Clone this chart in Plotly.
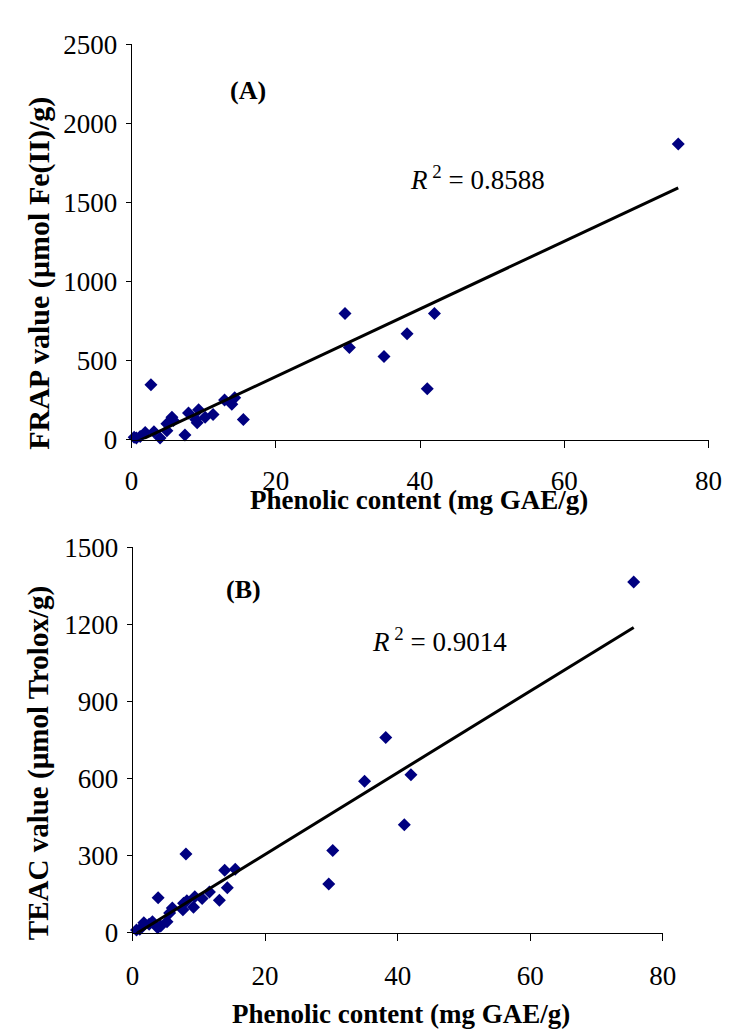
import numpy as np
import plotly.graph_objects as go

# ---------------- data ----------------
frap_phenolic = [0.36, 0.67, 1.2, 1.89, 2.69, 3.1, 3.95, 4.9, 4.9, 5.6, 5.8, 7.4, 7.9, 8.9,
                 9.3, 9.1, 10.2, 11.3, 12.9, 13.9, 14.3, 15.5,
                 29.6, 30.2, 35.0, 38.2, 42.0, 41.0, 75.8]
frap_value = [14, 10, 20, 45, 346, 49, 10, 55, 100, 141, 121, 29, 168, 127,
              189, 106, 141, 158, 250, 223, 264, 127,
              797, 583, 526, 670, 797, 321, 1870]
frap_fit = (21.4, -29.8)      # slope, intercept of linear trendline
frap_r2 = "0.8588"

teac_phenolic = [0.6, 1.1, 1.7, 2.5, 3.0, 3.8, 3.86, 4.25, 5.2, 5.6, 6.0, 7.6, 7.7, 8.06,
                 8.2, 9.2, 9.4, 10.5, 11.6, 13.1, 13.9, 14.3, 15.5,
                 29.6, 30.2, 35.0, 38.2, 42.0, 41.0, 75.6]
teac_value = [11, 14, 39, 33, 43, 20, 136, 26, 43, 77, 96, 90, 115, 307,
              125, 99, 140, 133, 159, 127, 243, 175, 247,
              190, 320, 590, 760, 615, 420, 1365]
teac_fit = (15.88, -12.2)
teac_r2 = "0.9014"

x_ticks = [0, 20, 40, 60, 80]
frap_ticks = [0, 500, 1000, 1500, 2000, 2500]
teac_ticks = [0, 300, 600, 900, 1200, 1500]

x_title = "Phenolic content (mg GAE/g)"
frap_title = "FRAP value (µmol Fe(II)/g)"
teac_title = "TEAC value (µmol Trolox/g)"

# ---------------- figure ----------------
W, H = 732, 1033
FONT = "Liberation Serif"
NAVY = "#000080"

fig = go.Figure()

def add_panel(xs, ys, fit, xa, ya):
    fig.add_trace(go.Scatter(x=xs, y=ys, mode="markers", xaxis=xa, yaxis=ya,
                             marker=dict(symbol="diamond", size=10, color=NAVY,
                                         line=dict(width=0)),
                             showlegend=False, cliponaxis=False))
    lx = np.array([min(xs), max(xs)])
    ly = fit[0] * lx + fit[1]
    fig.add_trace(go.Scatter(x=lx, y=ly, mode="lines", xaxis=xa, yaxis=ya,
                             line=dict(color="black", width=3),
                             showlegend=False))

add_panel(frap_phenolic, frap_value, frap_fit, "x", "y")
add_panel(teac_phenolic, teac_value, teac_fit, "x2", "y2")

def px_x(p):
    return p / W

def px_y(p):
    return 1 - p / H

axis_common = dict(showgrid=False, zeroline=False, showline=True, linecolor="black",
                   linewidth=1, ticks="outside", tickcolor="black",
                   tickfont=dict(family=FONT, size=27, color="black"))

fig.update_layout(
    width=W, height=H, margin=dict(l=0, r=0, t=0, b=0),
    paper_bgcolor="white", plot_bgcolor="white",
    font=dict(family=FONT, color="black"),
    xaxis=dict(domain=[px_x(120), px_x(714)], range=[0, 80], tickvals=x_ticks,
               anchor="y", ticklen=7, ticklabelstandoff=10, **axis_common),
    yaxis=dict(domain=[px_y(429), px_y(22)], range=[0, 2500], tickvals=frap_ticks,
               anchor="x", ticklen=5, ticklabelstandoff=3, **axis_common),
    xaxis2=dict(domain=[px_x(121), px_x(667)], range=[0, 80], tickvals=x_ticks,
                anchor="y2", ticklen=7, ticklabelstandoff=12, **axis_common),
    yaxis2=dict(domain=[px_y(937), px_y(540)], range=[0, 1500], tickvals=teac_ticks,
                anchor="x2", ticklen=5, ticklabelstandoff=3, **axis_common),
)

def note(text, x, y, xref="paper", yref="paper", size=26, angle=0):
    return dict(text=text, xref=xref, yref=yref, x=x, y=y, showarrow=False,
                xanchor="center", yanchor="middle", textangle=angle,
                font=dict(family=FONT, size=size, color="black"))

ann = [
    note("<b>" + x_title + "</b>", px_x(416), px_y(491), size=27),
    note("<b>" + x_title + "</b>", px_x(397), px_y(1021), size=27),
    note("<b>" + frap_title + "</b>", px_x(24), px_y(258), size=30, angle=-90),
    note("<b>" + teac_title + "</b>", px_x(25), px_y(762), size=29, angle=-90),
    note("<b>(A)</b>", 16.2, 2211, "x", "y", size=26),
    note("<b>(B)</b>", 16.7, 1337, "x2", "y2", size=26),
    note("<i>R</i><sup> 2</sup> = " + frap_r2, 47.9, 1652, "x", "y", size=27),
    note("<i>R</i><sup> 2</sup> = " + teac_r2, 46.3, 1141, "x2", "y2", size=27),
]

fig.update_layout(annotations=ann)
fig.write_html("out.html")
